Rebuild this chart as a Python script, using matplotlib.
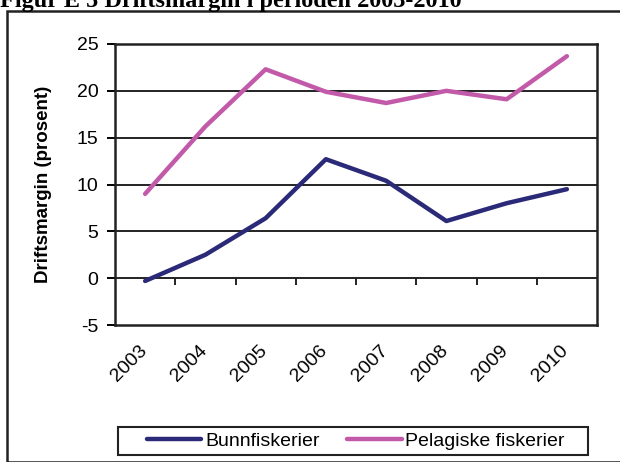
import matplotlib.pyplot as plt
import matplotlib.transforms as mtransforms
from matplotlib.patches import Rectangle

years = ['2003', '2004', '2005', '2006', '2007', '2008', '2009', '2010']
bunnfiskerier = [-0.3, 2.5, 6.4, 12.7, 10.4, 6.1, 8.0, 9.5]
pelagiske = [9.0, 16.2, 22.3, 19.9, 18.7, 20.0, 19.1, 23.7]

plt.rcParams['font.family'] = ['Liberation Sans', 'DejaVu Sans']
plt.rcParams['axes.unicode_minus'] = False

fig = plt.figure(figsize=(6.2, 4.62), dpi=100)
ax = fig.add_axes([115/620, 1 - 325/462, 482/620, 281/462])

x = list(range(len(years)))
ax.plot(x, bunnfiskerier, color='#2b2a78', lw=3.2, label='Bunnfiskerier', solid_capstyle='round')
ax.plot(x, pelagiske, color='#c259a9', lw=3.2, label='Pelagiske fiskerier', solid_capstyle='round')

ax.set_xlim(-0.5, len(years) - 0.5)
ax.set_ylim(-5, 25)
ax.set_yticks(range(-5, 30, 5))
for v in range(5, 30, 5):
    ax.axhline(v, color='#222222', lw=1.4, zorder=0)
# zero axis with category ticks
ax.axhline(0, color='#222222', lw=1.4, zorder=1)
ax.vlines([i + 0.5 for i in range(len(years) - 1)], -0.75, 0, color='#222222', lw=1.4)

ax.set_xticks(x)
ax.set_xticklabels(years, rotation=45, ha='right', rotation_mode='anchor')
ax.tick_params(axis='x', length=0, pad=12, labelsize=14)
shift = mtransforms.ScaledTranslation(-0.07, 0, fig.dpi_scale_trans)
for lbl in ax.get_xticklabels():
    lbl.set_transform(lbl.get_transform() + shift)
ax.tick_params(axis='y', length=6, width=1.4, direction='out', labelsize=14, pad=6)
for s in ax.spines.values():
    s.set_linewidth(1.8)
    s.set_color('#222222')

ax.set_ylabel('Driftsmargin (prosent)', fontsize=13.5, fontweight='bold', labelpad=18)

fig.legend(loc='center', bbox_to_anchor=(356/620, 1 - 441/462), ncol=2, fontsize=14,
           handlelength=2.8, handletextpad=0.2, columnspacing=1.4, frameon=False,
           borderpad=0, borderaxespad=0)
fig.patches.append(Rectangle((118/620, 1 - 455/462), 470/620, 28/462, transform=fig.transFigure,
                             fill=False, edgecolor='#222222', lw=1.5))

fig.patches.append(Rectangle((7/620, 0), 1.2, 1 - 11/462, transform=fig.transFigure,
                             fill=False, edgecolor='#222222', lw=1.8))

fig.text(0.0, 1 - 7/462, 'Figur E 5 Driftsmargin i perioden 2003-2010', fontsize=17.5,
         fontweight='bold', family=['Liberation Serif', 'DejaVu Serif'], va='baseline')

fig.savefig('out.png', dpi=100)
